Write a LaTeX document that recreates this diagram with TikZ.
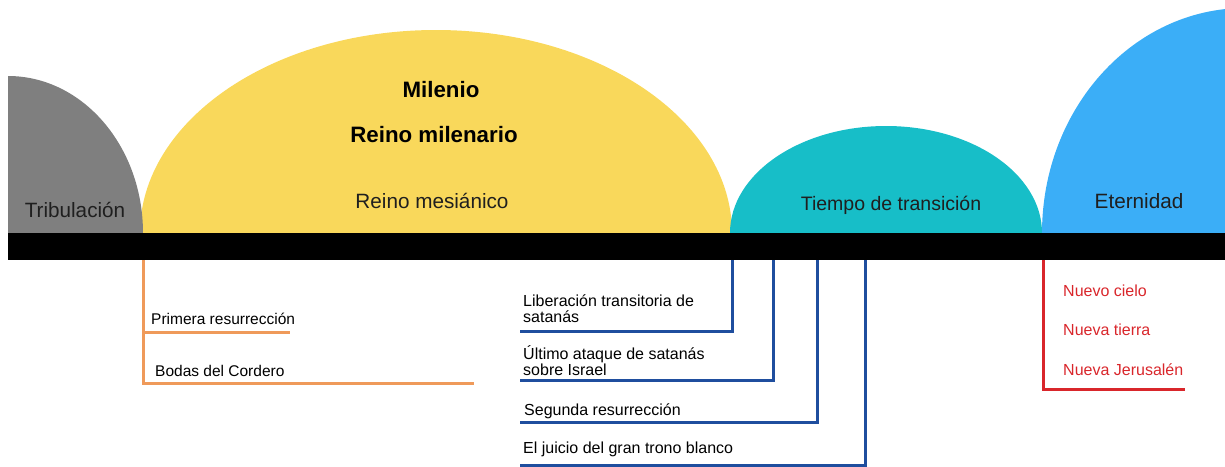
\documentclass[tikz,border=0pt]{standalone}
\usepackage{fontspec}
\setmainfont{Liberation Sans}
\definecolor{cgray}{HTML}{7F7F7F}
\definecolor{cyellow}{HTML}{F9D85B}
\definecolor{cteal}{HTML}{17BEC8}
\definecolor{cblue}{HTML}{3BAEF7}
\definecolor{corange}{HTML}{EF9A5A}
\definecolor{cnavy}{HTML}{1F4E9E}
\definecolor{cred}{HTML}{D9262B}
\begin{document}
\begin{tikzpicture}[x=1pt, y=-1pt, inner sep=0pt,
    dome/.style = {anchor=base, text=black!88, font=\fontsize{20.7}{24}\selectfont},
    head/.style = {anchor=base, font=\fontsize{22.3}{26}\selectfont\bfseries},
    item/.style = {anchor=base west, font=\fontsize{15.5}{18.5}\selectfont},
    navitem/.style = {item, font=\fontsize{16}{19}\selectfont},
    newitem/.style = {navitem, text=cred},
    orl/.style = {draw=corange, line width=3pt},
    nvl/.style = {draw=cnavy, line width=3pt},
    rdl/.style = {draw=cred, line width=3pt}]
    \clip (0,0) rectangle (1225,466);
    % domes
    \fill[cyellow] (140,233) arc[start angle=180, end angle=0, x radius=296pt, y radius=203pt] -- cycle;
    \fill[cgray] (143,233) arc[start angle=0, end angle=90, x radius=135pt, y radius=157pt] -- (8,233) -- cycle;
    \fill[cteal] (730,233) arc[start angle=180, end angle=0, x radius=156pt, y radius=107pt] -- cycle;
    \fill[cblue] (1042,233) arc[start angle=180, end angle=0, x radius=203pt, y radius=225pt] -- cycle;
    \fill[black] (8,233) rectangle (1225,260);
    % dome labels
    \node[dome] (trib) at (75,217) {Tribulación};
    \node[head] (mil) at (441,97) {Milenio};
    \node[head] (reino) at (434,142) {Reino milenario};
    \node[dome] (mes) at (432,208) {Reino mesiánico};
    \node[dome, font=\fontsize{19.5}{23}\selectfont] (trans) at (891,210) {Tiempo de transición};
    \node[dome] (eter) at (1139,208) {Eternidad};
    % orange bracket
    \coordinate (o0) at (143,260);
    \coordinate (o1) at (290,332);
    \coordinate (o2) at (474,383);
    \draw[orl] (o0) |- (o1);
    \draw[orl] (o0) |- (o2);
    \node[item] (pr) at (151,324) {Primera resurrección};
    \node[item] (bo) at (155,376) {Bodas del Cordero};
    % navy brackets
    \coordinate (n1) at (732,260);
    \coordinate (n2) at (773,260);
    \coordinate (n3) at (817,260);
    \coordinate (n4) at (865,260);
    \coordinate (m1) at (520,331);
    \coordinate (m2) at (520,380);
    \coordinate (m3) at (520,422);
    \coordinate (m4) at (520,465);
    \draw[nvl] (n1) |- (m1);
    \draw[nvl] (n2) |- (m2);
    \draw[nvl] (n3) |- (m3);
    \draw[nvl] (n4) |- (m4);
    \node[navitem] (lib) at (523,306) {Liberación transitoria de};
    \node[navitem] (lib2) at (523,322) {satanás};
    \node[navitem] (ult) at (523,359) {Último ataque de satanás};
    \node[navitem] (ult2) at (523,375) {sobre Israel};
    \node[navitem] (seg) at (524,415) {Segunda resurrección};
    \node[navitem] (jui) at (523,453) {El juicio del gran trono blanco};
    % red bracket
    \coordinate (r0) at (1043,260);
    \coordinate (r1) at (1185,389);
    \draw[rdl] (r0) |- (r1);
    \node[newitem] (cie) at (1063,296) {Nuevo cielo};
    \node[newitem] (tie) at (1063,335) {Nueva tierra};
    \node[newitem] (jer) at (1063,375) {Nueva Jerusalén};
\end{tikzpicture}
\end{document}
